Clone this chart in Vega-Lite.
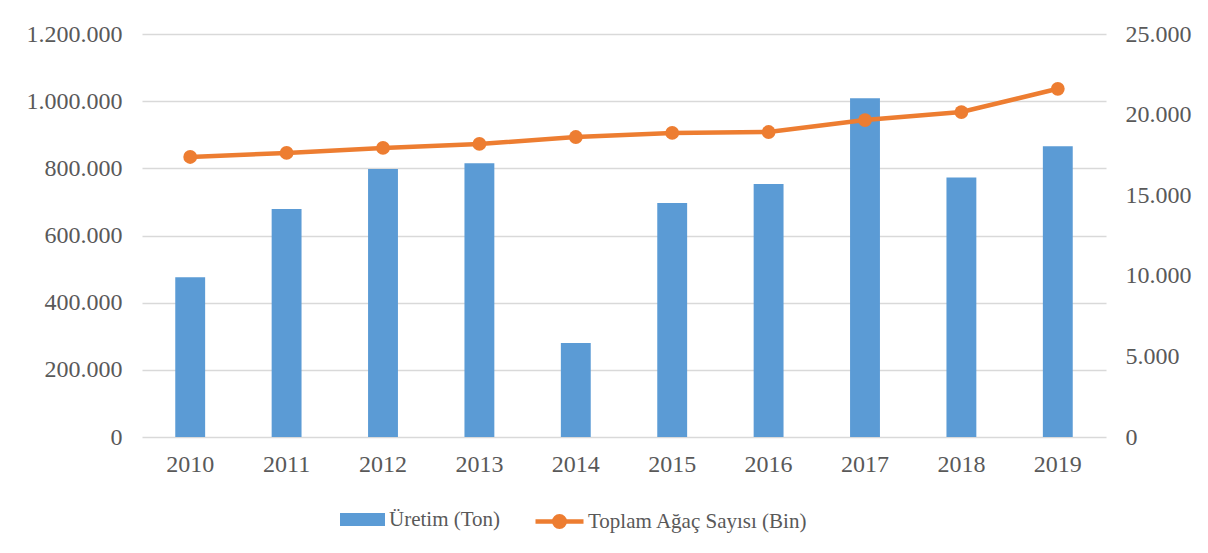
{
  "$schema": "https://vega.github.io/schema/vega-lite/v6.json",
  "width": 964,
  "height": 403,
  "autosize": {"type": "none"},
  "padding": {"left": 142, "top": 34, "right": 102, "bottom": 116},
  "background": "white",
  "data": {"values": [
    {"year": "2010", "uretim": 476000, "agac": 17370},
    {"year": "2011", "uretim": 679000, "agac": 17620},
    {"year": "2012", "uretim": 798000, "agac": 17930},
    {"year": "2013", "uretim": 815000, "agac": 18180},
    {"year": "2014", "uretim": 280000, "agac": 18610},
    {"year": "2015", "uretim": 697000, "agac": 18860},
    {"year": "2016", "uretim": 753000, "agac": 18920},
    {"year": "2017", "uretim": 1009000, "agac": 19660},
    {"year": "2018", "uretim": 773000, "agac": 20160},
    {"year": "2019", "uretim": 866000, "agac": 21600}
  ]},
  "encoding": {
    "x": {
      "field": "year", "type": "nominal",
      "scale": {"paddingInner": 0.69, "paddingOuter": 0.345},
      "axis": {"title": null, "labelAngle": 0, "ticks": false, "domain": false, "labelPadding": 15}
    }
  },
  "layer": [
    {
      "mark": {"type": "bar", "color": "#5B9BD5"},
      "encoding": {
        "y": {
          "field": "uretim", "type": "quantitative",
          "scale": {"domain": [0, 1200000], "nice": false},
          "axis": {"title": null, "values": [0, 200000, 400000, 600000, 800000, 1000000, 1200000],
                   "labelExpr": "replace(format(datum.value, ','), /,/g, '.')",
                   "ticks": false, "domain": false, "grid": true, "gridColor": "#D9D9D9", "gridWidth": 1.5, "labelPadding": 20}
        },
        "color": {
          "datum": "Üretim (Ton)", "type": "nominal",
          "scale": {"range": ["#5B9BD5"]},
          "legend": {
            "title": null, "orient": "none", "legendX": 198, "legendY": 463,
            "symbolType": "M-1,-0.29H1V0.29H-1Z", "symbolSize": 2025,
            "symbolFillColor": "#5B9BD5", "symbolStrokeWidth": 0, "labelOffset": 4,
            "labelFont": "Liberation Serif"
          }
        }
      }
    },
    {
      "mark": {"type": "line", "color": "#ED7D31", "strokeWidth": 4.5, "point": {"size": 190, "filled": true, "color": "#ED7D31", "opacity": 1}},
      "encoding": {
        "y": {
          "field": "agac", "type": "quantitative",
          "scale": {"domain": [0, 25000], "nice": false},
          "axis": {"title": null, "orient": "right", "values": [0, 5000, 10000, 15000, 20000, 25000],
                   "labelExpr": "replace(format(datum.value, ','), /,/g, '.')",
                   "ticks": false, "domain": false, "grid": false, "labelPadding": 19}
        },
        "color": {
          "datum": "Toplam Ağaç Sayısı (Bin)", "type": "nominal",
          "scale": {"range": ["#ED7D31"]},
          "legend": {
            "title": null, "orient": "none", "legendX": 391, "legendY": 461,
            "symbolType": "M-1,0H1M0.22,0A0.22,0.22 0 1 1 -0.22,0A0.22,0.22 0 1 1 0.22,0",
            "symbolSize": 2304, "symbolFillColor": "#ED7D31", "symbolStrokeColor": "#ED7D31",
            "symbolStrokeWidth": 4.5, "labelOffset": 2, "labelFont": "Liberation Serif"
          }
        }
      }
    }
  ],
  "resolve": {"scale": {"y": "independent", "color": "independent"}, "legend": {"color": "independent"}},
  "config": {
    "view": {"stroke": null},
    "font": "Liberation Serif",
    "axis": {"labelFont": "Liberation Serif", "labelFontSize": 24, "labelColor": "#595959"},
    "legend": {"labelFont": "Liberation Serif", "labelFontSize": 21, "labelColor": "#595959", "labelLimit": 400}
  }
}
